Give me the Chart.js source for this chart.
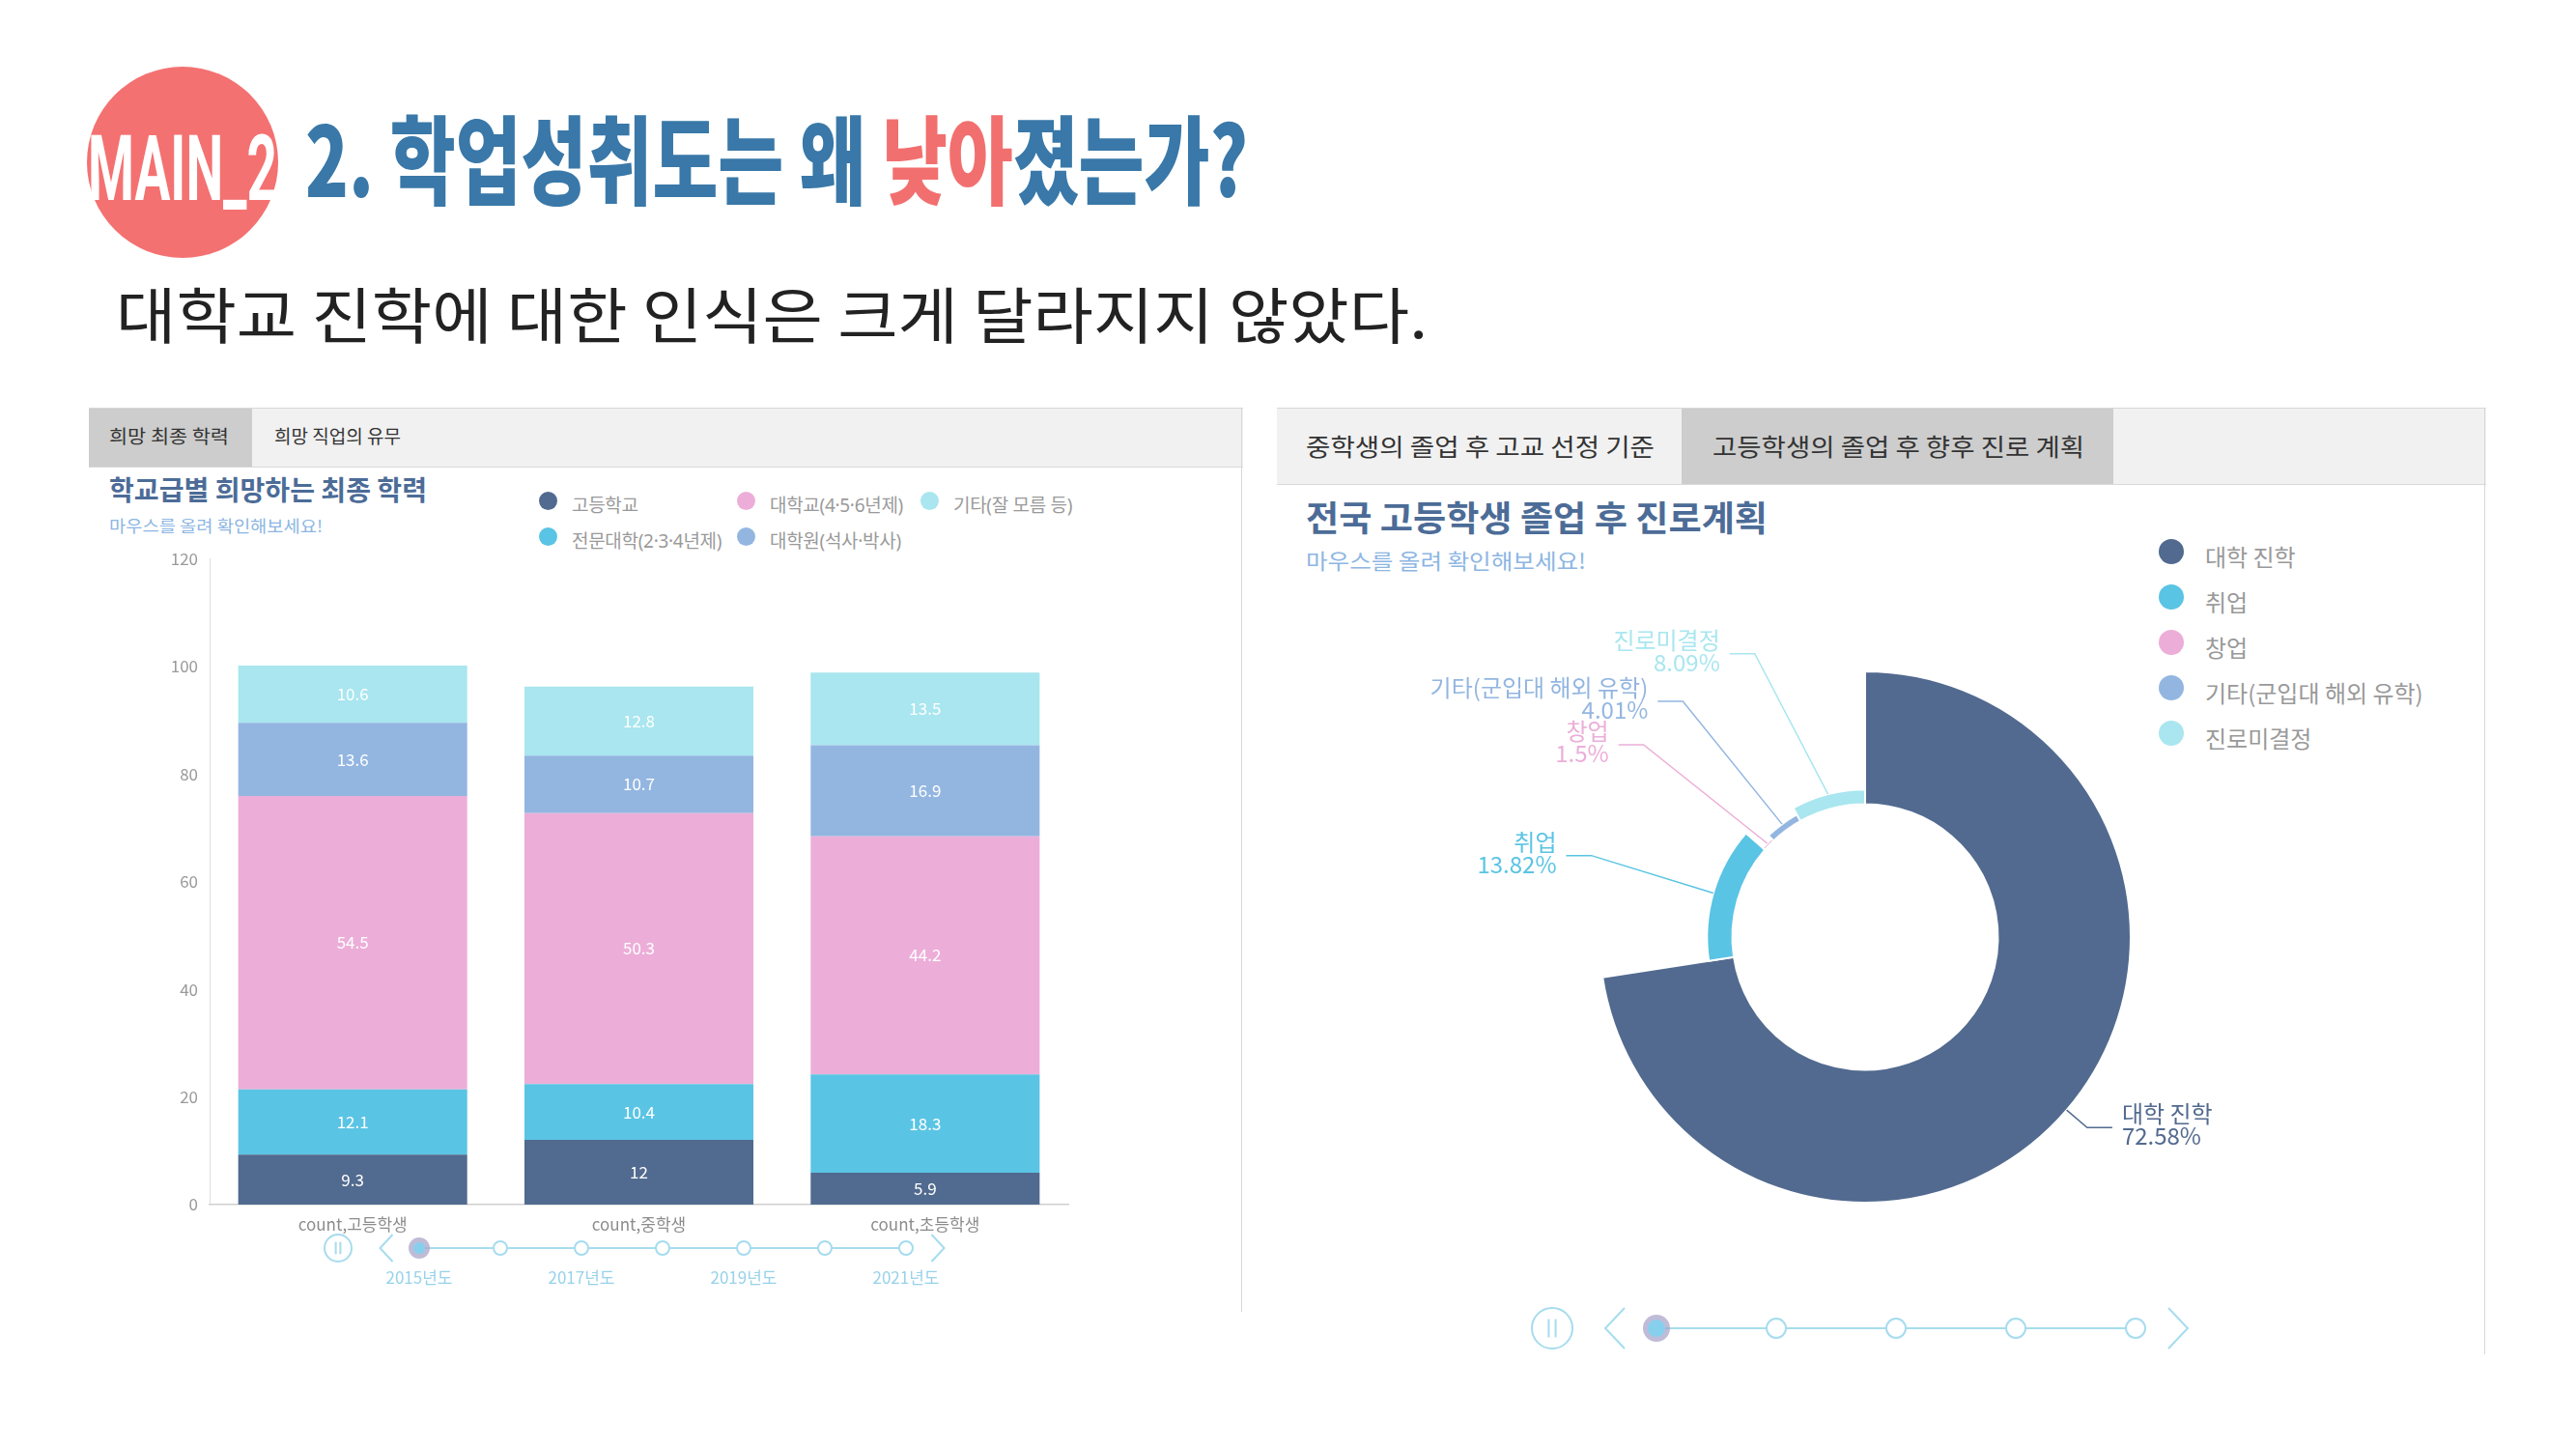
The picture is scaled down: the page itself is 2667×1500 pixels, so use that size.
<!DOCTYPE html>
<html><head><meta charset="utf-8">
<script src="https://cdn.jsdelivr.net/npm/chart.js@4/dist/chart.umd.min.js"></script>
<style>
html,body{margin:0;padding:0;background:#fff;}
body{width:2667px;height:1500px;position:relative;overflow:hidden;font-family:'Noto Sans CJK KR',sans-serif;}
.abs{position:absolute;white-space:nowrap;line-height:1;transform-origin:left top;}
.box{position:absolute;box-sizing:border-box;}
</style></head><body>

<!-- header -->
<div class="box" style="left:90px;top:69px;width:198px;height:198px;border-radius:50%;background:#F47171;"></div>
<div id="mainTag" class="abs" style="left:91px;top:119px;font:700 95px Roboto,sans-serif;color:#fff;">MAIN_2</div>
<div id="title" class="abs" style="left:316px;top:88px;font:900 100px 'Noto Sans CJK KR';color:#3978A8;">2. 학업성취도는 왜 <span style="color:#F26F6F">낮아</span>졌는가?</div>
<div id="subtitle" class="abs" style="left:120px;top:277px;font:400 63px 'Noto Sans CJK KR';color:#222;">대학교 진학에 대한 인식은 크게 달라지지 않았다.</div>

<!-- left panel frame -->
<div class="box" style="left:92px;top:422px;width:1195px;height:62px;background:#F1F1F1;border-top:1px solid #D8D8D8;border-bottom:1px solid #D8D8D8;"></div>
<div class="box" style="left:92px;top:423px;width:169px;height:60px;background:#CDCDCD;"></div>
<div class="box" style="left:1285px;top:422px;width:1px;height:936px;background:#D8D8D8;"></div>
<div id="ltab1" class="abs" style="left:113px;top:437px;font:400 19px 'Noto Sans CJK KR';color:#333;">희망 최종 학력</div>
<div id="ltab2" class="abs" style="left:284px;top:437px;font:400 19px 'Noto Sans CJK KR';color:#333;">희망 직업의 유무</div>
<div id="ltitle" class="abs" style="left:113px;top:486px;font:700 28px 'Noto Sans CJK KR';color:#4C6C97;">학교급별 희망하는 최종 학력</div>
<div id="lsub" class="abs" style="left:113px;top:531px;font:400 17px 'Noto Sans CJK KR';color:#8DB6E3;">마우스를 올려 확인해보세요!</div>
<div id="leftLegend"></div>

<!-- right panel frame -->
<div class="box" style="left:1322px;top:422px;width:1252px;height:80px;background:#F1F1F1;border-top:1px solid #D8D8D8;border-bottom:1px solid #D8D8D8;"></div>
<div class="box" style="left:1741px;top:423px;width:447px;height:78px;background:#CDCDCD;"></div>
<div class="box" style="left:2572px;top:422px;width:1px;height:980px;background:#D8D8D8;"></div>
<div id="rtab1" class="abs" style="left:1352px;top:443px;font:400 25px 'Noto Sans CJK KR';color:#333;">중학생의 졸업 후 고교 선정 기준</div>
<div id="rtab2" class="abs" style="left:1773px;top:443px;font:400 25px 'Noto Sans CJK KR';color:#333;">고등학생의 졸업 후 향후 진로 계획</div>
<div id="rtitle" class="abs" style="left:1352px;top:508px;font:700 36px 'Noto Sans CJK KR';color:#4C6C97;">전국 고등학생 졸업 후 진로계획</div>
<div id="rsub" class="abs" style="left:1352px;top:563px;font:400 22px 'Noto Sans CJK KR';color:#8DB6E3;">마우스를 올려 확인해보세요!</div>
<div id="rightLegend"></div>

<!-- charts -->
<div class="box" style="left:120px;top:556px;width:1010px;height:740px;"><canvas id="barChart"></canvas></div>
<div class="box" style="left:1330px;top:600px;width:1240px;height:760px;"><canvas id="donutChart"></canvas></div>

<svg id="timelines" width="2667" height="1500" style="position:absolute;left:0;top:0;pointer-events:none;"></svg>

<script>
// ---------------- data ----------------
const schoolLevels = ['count,고등학생', 'count,중학생', 'count,초등학생'];
const eduSeries = ['고등학교', '전문대학(2·3·4년제)', '대학교(4·5·6년제)', '대학원(석사·박사)', '기타(잘 모름 등)'];
const highSchoolGoal = [9.3, 12, 5.9];
const juniorCollegeGoal = [12.1, 10.4, 18.3];
const universityGoal = [54.5, 50.3, 44.2];
const gradSchoolGoal = [13.6, 10.7, 16.9];
const otherGoal = [10.6, 12.8, 13.5];
const eduColors = ['#516A8F', '#5AC4E4', '#ECAED8', '#93B6E1', '#A9E6EF'];
const yTickMax = 120;
const yTickStep = 20;

const careerLabels = ['대학 진학', '취업', '창업', '기타(군입대 해외 유학)', '진로미결정'];
const careerValues = [72.58, 13.82, 1.5, 4.01, 8.09];
const careerColors = ['#526A8F', '#5AC4E4', '#ECAED8', '#93B6E1', '#A9E6EF'];

const timelineYears = ['2015년도', '2016년도', '2017년도', '2018년도', '2019년도', '2020년도', '2021년도'];
const timelineShownYears = ['2015년도', '2017년도', '2019년도', '2021년도'];
const careerTimelineSteps = ['1', '2', '3', '4', '5'];

// ---------------- text fitting ----------------
function fitX(id, w) {
  const el = document.getElementById(id);
  const nat = el.getBoundingClientRect().width;
  el.style.transform = 'scaleX(' + (w / nat) + ')';
}
fitX('mainTag', 196);
fitX('title', 976);
fitX('subtitle', 1358);
fitX('ltitle', 329);
fitX('rtitle', 478);
fitX('rtab1', 361);
fitX('rtab2', 385);
fitX('ltab1', 124);
fitX('lsub', 221);
fitX('rsub', 290);

// ---------------- legends (HTML) ----------------
(function () {
  const wrap = document.getElementById('leftLegend');
  const colX = [567, 772, 962], rowY = [518, 555];
  eduSeries.forEach((name, i) => {
    const c = Math.floor(i / 2), r = i % 2;
    const d = document.createElement('div');
    d.className = 'box';
    d.style.cssText = `left:${colX[c] - 9.5}px;top:${rowY[r] - 9.5}px;width:19px;height:19px;border-radius:50%;background:${eduColors[i]};`;
    wrap.appendChild(d);
    const t = document.createElement('div');
    t.className = 'abs';
    t.style.cssText = `left:${colX[c] + 25}px;top:${rowY[r] - 10.5}px;font:400 19px 'Noto Sans','Noto Sans CJK KR';color:#9a9a9a;letter-spacing:-0.3px;`;
    t.textContent = name;
    wrap.appendChild(t);
  });
  const wrap2 = document.getElementById('rightLegend');
  careerLabels.forEach((name, i) => {
    const y = 571 + i * 47;
    const d = document.createElement('div');
    d.className = 'box';
    d.style.cssText = `left:${2248 - 13}px;top:${y - 13}px;width:26px;height:26px;border-radius:50%;background:${careerColors[i]};`;
    wrap2.appendChild(d);
    const t = document.createElement('div');
    t.className = 'abs';
    t.style.cssText = `left:2283px;top:${y - 13.5}px;font:400 24px 'Noto Sans CJK KR';color:#999;`;
    t.textContent = name;
    wrap2.appendChild(t);
  });
})();

// ---------------- bar chart ----------------
const barValueLabels = {
  id: 'barValueLabels',
  afterDatasetsDraw(chart) {
    const ctx = chart.ctx;
    ctx.save();
    ctx.font = "400 17px 'Noto Sans CJK KR'";
    ctx.fillStyle = '#fff';
    ctx.textAlign = 'center';
    ctx.textBaseline = 'middle';
    chart.data.datasets.forEach((ds, di) => {
      chart.getDatasetMeta(di).data.forEach((bar, i) => {
        ctx.fillText(String(ds.data[i]), bar.x, (bar.y + bar.base) / 2);
      });
    });
    ctx.restore();
  }
};

const eduData = [highSchoolGoal, juniorCollegeGoal, universityGoal, gradSchoolGoal, otherGoal];
new Chart(document.getElementById('barChart'), {
  type: 'bar',
  data: {
    labels: schoolLevels,
    datasets: eduSeries.map((name, i) => ({
      label: name,
      data: eduData[i],
      backgroundColor: eduColors[i],
      borderWidth: 0,
      barPercentage: 0.8,
      categoryPercentage: 1.0
    }))
  },
  options: {
    responsive: true,
    maintainAspectRatio: false,
    devicePixelRatio: 1,
    animation: false,
    layout: { padding: { left: 0, right: 24, top: 20, bottom: 0 } },
    plugins: { legend: { display: false }, tooltip: { enabled: false } },
    scales: {
      x: {
        stacked: true,
        grid: { display: false, drawTicks: false },
        border: { color: '#cfcfcf', width: 1.5 },
        ticks: { padding: 10, color: '#8c8c8c', font: { family: 'Noto Sans CJK KR', size: 17 } },
        afterFit(s) { s.height = 49; }
      },
      y: {
        stacked: true,
        min: 0, max: yTickMax,
        grid: { display: false, drawTicks: false },
        border: { color: '#dedede', width: 1 },
        ticks: { stepSize: yTickStep, padding: 12, color: '#9a9a9a', font: { family: 'Noto Sans CJK KR', size: 17 } },
        afterFit(s) { s.width = 97; }
      }
    }
  },
  plugins: [barValueLabels]
});

// ---------------- donut (polar area with proportional angles) ----------------
const careerTotal = careerValues.reduce((a, b) => a + b, 0);
const careerMax = Math.max(...careerValues);

const holeAndLabels = {
  id: 'holeAndLabels',
  afterDatasetsUpdate(chart) {
    const scale = chart.scales.r;
    const inner = scale.getDistanceFromCenterForValue(0);
    chart.getDatasetMeta(0).data.forEach(a => { a.innerRadius = inner; });
  },
  afterDatasetsDraw(chart) {
    const arcs = chart.getDatasetMeta(0).data;
    const ctx = chart.ctx;
    const cx = arcs[0].x, cy = arcs[0].y;
    const R = Math.max(...arcs.map(a => a.outerRadius));
    const len1 = 28, len2 = 26, gap = 45;
    const rho = R + len1;
    const items = arcs.map((a, i) => {
      const mid = (a.startAngle + a.endAngle) / 2;
      return {
        i,
        ax: cx + Math.cos(mid) * a.outerRadius, ay: cy + Math.sin(mid) * a.outerRadius,
        ex: cx + Math.cos(mid) * rho, ey: cy + Math.sin(mid) * rho,
        dir: Math.cos(mid) < 0 ? -1 : 1
      };
    });
    [-1, 1].forEach(dir => {
      const side = items.filter(it => it.dir === dir).sort((a, b) => a.ey - b.ey);
      let shifted = false;
      for (let k = 1; k < side.length; k++) {
        if (side[k].ey < side[k - 1].ey + gap) { side[k].ey = side[k - 1].ey + gap; shifted = true; }
      }
      if (shifted) {
        const rB = Math.max(...side.map(it => Math.abs(it.ey - cy))) + 25;
        const rA = rho - 9;
        side.forEach(it => {
          const dy = it.ey - cy;
          it.ex = cx + dir * Math.sqrt(Math.max(0, 1 - dy * dy / (rB * rB))) * rA;
        });
      }
    });
    ctx.save();
    ctx.font = "400 24px 'Noto Sans CJK KR'";
    ctx.textBaseline = 'middle';
    items.forEach(it => {
      const col = careerColors[it.i];
      const hx = it.ex + it.dir * len2;
      ctx.strokeStyle = col;
      ctx.lineWidth = 1.5;
      ctx.beginPath();
      ctx.moveTo(it.ax, it.ay);
      ctx.lineTo(it.ex, it.ey);
      ctx.lineTo(hx, it.ey);
      ctx.stroke();
      ctx.fillStyle = col;
      ctx.textAlign = it.dir < 0 ? 'right' : 'left';
      const tx = hx + it.dir * 10;
      ctx.fillText(careerLabels[it.i], tx, it.ey - 14);
      ctx.fillText(String(careerValues[it.i]) + '%', tx, it.ey + 9);
    });
    ctx.restore();
  }
};

new Chart(document.getElementById('donutChart'), {
  type: 'polarArea',
  data: {
    labels: careerLabels,
    datasets: [{
      data: careerValues,
      angle: careerValues.map(v => v / careerTotal * 360),
      backgroundColor: careerColors,
      borderColor: '#ffffff',
      borderWidth: 2
    }]
  },
  options: {
    responsive: true,
    maintainAspectRatio: false,
    devicePixelRatio: 1,
    animation: false,
    layout: { padding: { left: 326, right: 364, top: 95, bottom: 115 } },
    plugins: { legend: { display: false }, tooltip: { enabled: false } },
    scales: { r: { display: false, min: -careerMax, max: careerMax, startAngle: 0 } }
  },
  plugins: [holeAndLabels]
});

// ---------------- timeline controls (decorative UI) ----------------
(function () {
  const svg = document.getElementById('timelines');
  const NS = 'http://www.w3.org/2000/svg';
  const stroke = '#A6DCEE';
  function el(tag, attrs, text) {
    const e = document.createElementNS(NS, tag);
    for (const k in attrs) e.setAttribute(k, attrs[k]);
    if (text) e.textContent = text;
    svg.appendChild(e);
    return e;
  }
  function timeline(cfg) {
    const y = cfg.y;
    el('circle', { cx: cfg.pauseX, cy: y, r: cfg.pauseR, fill: 'none', stroke, 'stroke-width': 2 });
    const bh = cfg.pauseR * 0.45, bo = cfg.pauseR * 0.17;
    el('line', { x1: cfg.pauseX - bo, y1: y - bh, x2: cfg.pauseX - bo, y2: y + bh, stroke, 'stroke-width': 2 });
    el('line', { x1: cfg.pauseX + bo, y1: y - bh, x2: cfg.pauseX + bo, y2: y + bh, stroke, 'stroke-width': 2 });
    el('polyline', { points: `${cfg.prevX + cfg.chevW / 2},${y - cfg.chevH} ${cfg.prevX - cfg.chevW / 2},${y} ${cfg.prevX + cfg.chevW / 2},${y + cfg.chevH}`, fill: 'none', stroke, 'stroke-width': 2 });
    el('polyline', { points: `${cfg.nextX - cfg.chevW / 2},${y - cfg.chevH} ${cfg.nextX + cfg.chevW / 2},${y} ${cfg.nextX - cfg.chevW / 2},${y + cfg.chevH}`, fill: 'none', stroke, 'stroke-width': 2 });
    const xs = cfg.steps.map((s, k) => cfg.x0 + k * cfg.dx);
    el('line', { x1: xs[0], y1: y, x2: xs[xs.length - 1], y2: y, stroke, 'stroke-width': 2 });
    xs.forEach((x, k) => {
      if (k === 0) {
        el('circle', { cx: x, cy: y, r: cfg.knotR + 4, fill: '#A9A6CA', opacity: 0.75 });
        el('circle', { cx: x, cy: y, r: cfg.knotR - 1, fill: '#86D0EE' });
      } else {
        el('circle', { cx: x, cy: y, r: cfg.knotR, fill: '#fff', stroke, 'stroke-width': 2 });
      }
      if (cfg.shown && cfg.shown.includes(cfg.steps[k])) {
        el('text', { x, y: cfg.labelY, 'text-anchor': 'middle', 'dominant-baseline': 'middle', fill: '#98D2EA', 'font-family': 'Noto Sans CJK KR', 'font-size': 17 }, cfg.steps[k]);
      }
    });
  }
  timeline({ y: 1292, pauseX: 350, pauseR: 14, prevX: 400, nextX: 971, chevW: 13, chevH: 14, x0: 434, dx: 84, knotR: 7, steps: timelineYears, shown: timelineShownYears, labelY: 1324 });
  timeline({ y: 1375, pauseX: 1607, pauseR: 21, prevX: 1672, nextX: 2255, chevW: 20, chevH: 21, x0: 1715, dx: 124, knotR: 10, steps: careerTimelineSteps, shown: null, labelY: 0 });
})();
</script>
</body></html>
